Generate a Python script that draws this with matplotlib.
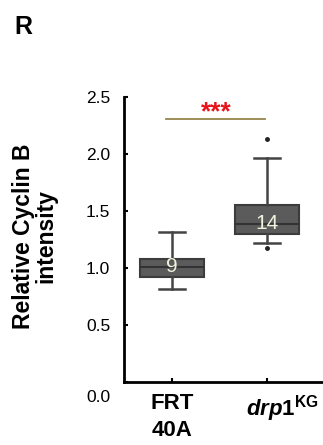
import matplotlib
matplotlib.use("Agg")
import matplotlib.pyplot as plt
import matplotlib.transforms as mtransforms

plt.rcParams['font.family'] = ['Liberation Sans', 'DejaVu Sans']
plt.rcParams['mathtext.fontset'] = 'custom'
plt.rcParams['mathtext.it'] = 'Liberation Sans:bold:italic'
plt.rcParams['mathtext.rm'] = 'Liberation Sans:bold'
plt.rcParams['mathtext.bf'] = 'Liberation Sans:bold'

categories = ['FRT\n40A', r'$\it{drp1}^{\rm{KG}}$']
n_labels = ['9', '14']
whislo = [0.815, 1.22]
q1 = [0.92, 1.30]
med = [1.01, 1.39]
q3 = [1.08, 1.55]
whishi = [1.316, 1.97]
fliers = [[], [1.175, 2.13]]
yticks = [0.0, 0.5, 1.0, 1.5, 2.0, 2.5]
sig_y = 2.31
sig_text = '***'

fig = plt.figure(figsize=(3.23, 4.45), dpi=100)
ax = fig.add_axes([0.384, 0.1416, 0.613, 0.640])

stats = []
for i in range(len(categories)):
    stats.append(dict(whislo=whislo[i], q1=q1[i], med=med[i], q3=q3[i],
                      whishi=whishi[i], fliers=fliers[i]))

ax.bxp(stats, positions=[0, 1], widths=0.68, patch_artist=True,
       showfliers=True,
       boxprops=dict(facecolor='#5b5b5b', edgecolor='#3c3c3c', linewidth=1.5),
       medianprops=dict(color='#333333', linewidth=1.5),
       whiskerprops=dict(color='#444444', linewidth=1.8),
       capprops=dict(color='#444444', linewidth=1.8),
       capwidths=0.27,
       flierprops=dict(marker='o', markersize=2.5, markerfacecolor='#222222',
                       markeredgecolor='#222222'))

for i, lab in enumerate(n_labels):
    ax.text(i, med[i], lab, ha='center', va='center', fontsize=15,
            color='#eef3dc')

ax.plot([-0.06, 0.98], [sig_y, sig_y], color='#8a7a3a', linewidth=1.2)
ax.text(0.47, sig_y, sig_text, ha='center', va='baseline',
        fontsize=19, fontweight='bold', color='#e8141c')

ax.set_xlim(-0.505, 1.58)
ax.set_ylim(0, 2.5)
ax.set_yticks(yticks)
ax.set_yticklabels([f'{v:.1f}' for v in yticks], fontsize=12.5)
ax.set_xticks([0, 1])
ax.set_xticklabels(categories, fontsize=16, fontweight='bold', linespacing=1.4)
ax.tick_params(axis='both', direction='in', length=3, width=1.5)
ax.tick_params(axis='y', pad=10)
ax.tick_params(axis='x', pad=8)

# shift 0.0 label downward as in reference
lbl0 = ax.get_yticklabels()[0]
lbl0.set_transform(lbl0.get_transform() +
                   mtransforms.ScaledTranslation(0, -10 / 72, fig.dpi_scale_trans))
# drp1 label sits right of its tick in the reference
lblx = ax.get_xticklabels()[1]
lblx.set_transform(lblx.get_transform() +
                   mtransforms.ScaledTranslation(15 / 100, 0, fig.dpi_scale_trans))

for s in ['top', 'right']:
    ax.spines[s].set_visible(False)
for s in ['left', 'bottom']:
    ax.spines[s].set_linewidth(2)
    ax.spines[s].set_color('black')

fig.text(0.107, 0.47, 'Relative Cyclin B\nintensity', rotation=90,
         ha='center', va='center', fontsize=16.5, fontweight='bold',
         linespacing=0.95, multialignment='center', transform=fig.transFigure)
fig.text(0.044, 0.966, 'R', fontsize=18, fontweight='bold', ha='left', va='top')

fig.savefig('out.png', dpi=100)
